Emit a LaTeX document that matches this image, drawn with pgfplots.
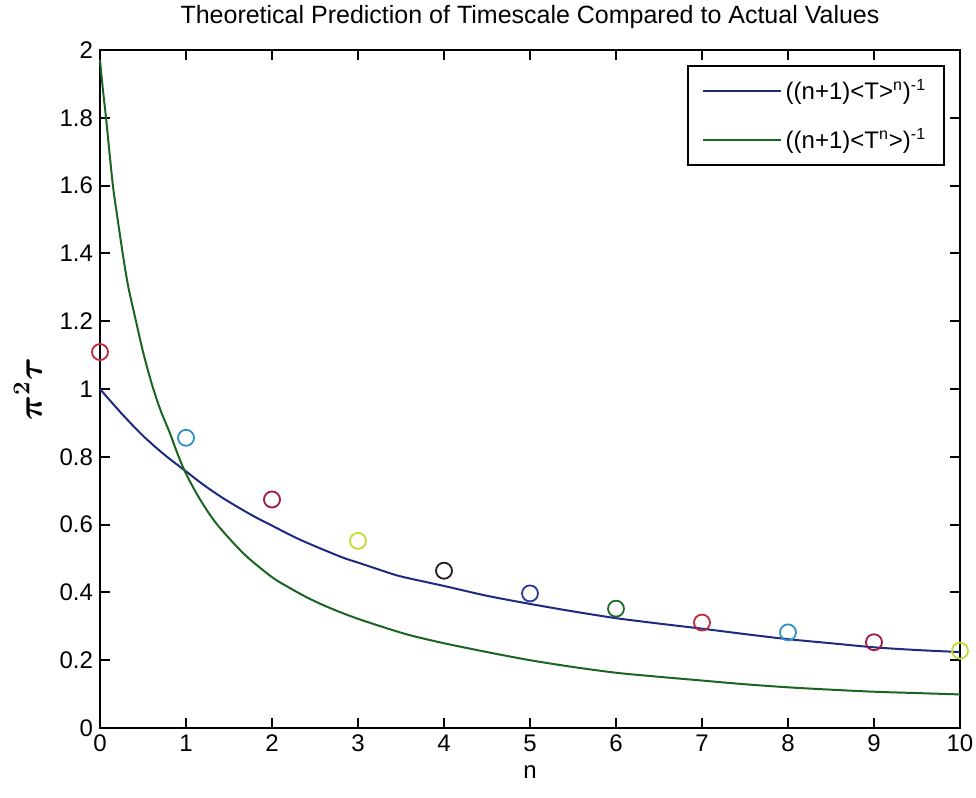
\documentclass[border=0pt]{standalone}
\usepackage{fontspec}
\setmainfont{Liberation Sans}
\usepackage{amsmath}
\usepackage{pgfplots}
\pgfplotsset{compat=1.18}
\definecolor{cblue}{HTML}{1C2A80}
\definecolor{cgreen}{HTML}{1A6620}
\definecolor{mred}{HTML}{C0283A}
\definecolor{mcyan}{HTML}{3090C8}
\definecolor{mmag}{HTML}{A01848}
\definecolor{myel}{HTML}{C8D830}
\definecolor{mblk}{HTML}{202020}
\definecolor{mblu}{HTML}{2838A0}
\definecolor{mgrn}{HTML}{1C6A28}
\begin{document}
\begin{tikzpicture}
\useasboundingbox (-50pt,-35pt) rectangle (438pt,364pt);
\begin{axis}[
  at={(0,0)}, anchor=south west,
  scale only axis, width=430pt, height=339pt,
  xmin=0, xmax=10, ymin=0, ymax=2,
  xtick={0,1,...,10},
  ytick={0,0.2,...,2.01},
  yticklabels={0,0.2,0.4,0.6,0.8,1,1.2,1.4,1.6,1.8,2},
  tick align=inside, major tick length=5pt,
  axis line style={line width=1pt},
  every tick/.style={line width=1pt, black},
  font=\fontsize{12}{14}\selectfont,
  tick label style={font=\fontsize{12}{14}\selectfont},
  /pgf/number format/assume math mode=true,
  title={Theoretical Prediction of Timescale Compared to Actual Values},
  title style={font=\fontsize{12.5}{15}\selectfont, yshift=1pt},
  xlabel={n},
  ylabel={$\boldsymbol{\pi^2\tau}$},
  ylabel style={font=\fontsize{17}{19}\selectfont, yshift=2pt},
  clip=false,
  legend style={at={(rel axis cs:1,1)}, xshift=-7.5pt, yshift=-7.5pt, anchor=north east,
    draw=black, line width=0.8pt, font=\fontsize{12}{14}\selectfont,
    row sep=9pt, inner xsep=7pt, inner ysep=5pt, cells={anchor=west}},
  legend image code/.code={\draw[#1, line width=1pt] (0pt,0pt) -- (39pt,0pt);},
]
\addplot[cblue, line width=1pt, smooth] coordinates {
(0,1.000) (0.25,0.928) (0.5,0.862) (0.75,0.806) (1,0.757) (1.2,0.718)
(1.4,0.683) (1.6,0.652) (1.8,0.623) (2,0.597) (2.33,0.555) (2.8,0.505)
(3,0.488) (3.26,0.466) (3.5,0.447) (4,0.419) (4.5,0.390) (5,0.366)
(5.5,0.344) (6,0.324) (6.5,0.308) (7,0.293) (7.5,0.277) (8,0.262)
(8.5,0.250) (9,0.238) (9.5,0.230) (10,0.224)};
\addlegendentry{((n+1)<T>\textsuperscript{n})\textsuperscript{-1}}
\addplot[cgreen, line width=1pt, smooth] coordinates {
(0,1.97) (0.035,1.88) (0.07,1.80) (0.147,1.607) (0.2,1.51) (0.27,1.39)
(0.33,1.30) (0.407,1.213) (0.5,1.11) (0.6,1.017) (0.7,0.94) (0.814,0.869)
(0.9,0.81) (1,0.750) (1.15,0.68) (1.32,0.614) (1.5,0.56) (1.71,0.505)
(2.0,0.445) (2.2,0.414) (2.4,0.386) (2.6,0.362) (2.8,0.341) (3.0,0.322)
(3.3,0.297) (3.6,0.274) (4,0.250) (4.5,0.224) (5,0.200) (5.5,0.180)
(6,0.163) (6.5,0.151) (7,0.140) (7.5,0.129) (8,0.120) (8.5,0.113)
(9,0.107) (9.5,0.103) (10,0.099)};
\addlegendentry{((n+1)<T\textsuperscript{n}>)\textsuperscript{-1}}
\addplot[only marks, mark=o, mark size=4pt, line width=0.9pt, mred, forget plot] coordinates {(0,1.109)};
\addplot[only marks, mark=o, mark size=4pt, line width=0.9pt, mcyan, forget plot] coordinates {(1,0.856)};
\addplot[only marks, mark=o, mark size=4pt, line width=0.9pt, mmag, forget plot] coordinates {(2,0.674)};
\addplot[only marks, mark=o, mark size=4pt, line width=0.9pt, myel, forget plot] coordinates {(3,0.552)};
\addplot[only marks, mark=o, mark size=4pt, line width=0.9pt, mblk, forget plot] coordinates {(4,0.464)};
\addplot[only marks, mark=o, mark size=4pt, line width=0.9pt, mblu, forget plot] coordinates {(5,0.397)};
\addplot[only marks, mark=o, mark size=4pt, line width=0.9pt, mgrn, forget plot] coordinates {(6,0.352)};
\addplot[only marks, mark=o, mark size=4pt, line width=0.9pt, mred, forget plot] coordinates {(7,0.311)};
\addplot[only marks, mark=o, mark size=4pt, line width=0.9pt, mcyan, forget plot] coordinates {(8,0.282)};
\addplot[only marks, mark=o, mark size=4pt, line width=0.9pt, mmag, forget plot] coordinates {(9,0.253)};
\addplot[only marks, mark=o, mark size=4pt, line width=0.9pt, myel, forget plot] coordinates {(10,0.228)};
\end{axis}
\end{tikzpicture}
\end{document}
